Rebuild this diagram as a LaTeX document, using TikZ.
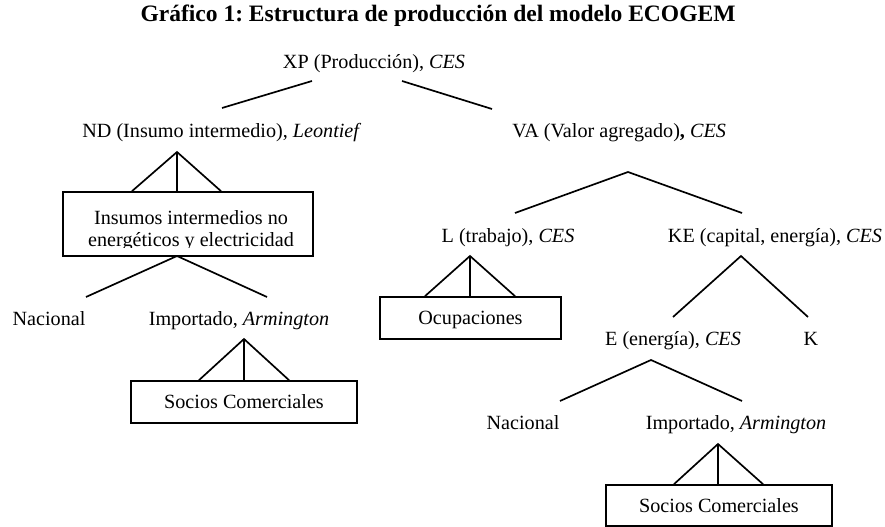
\documentclass[tikz,border=0pt]{standalone}
\usepackage{fontspec}
\setmainfont{Liberation Serif}
\usetikzlibrary{positioning, calc}
\frenchspacing

\begin{document}
\begin{tikzpicture}[
		x=0.595pt, y=-0.595pt,
		txt/.style={inner sep=0pt, text height=8.5pt, text depth=2.5pt,
			font=\fontsize{12}{14.3}\selectfont},
		groupbox/.style 2 args={draw, line width=1pt, inner sep=0pt,
			text height=10pt, text depth=2pt,
			font=\fontsize{12}{14.3}\selectfont,
			minimum width=#1*0.595pt, minimum height=#2*0.595pt},
		branch/.style={line width=1pt},
	]
		\useasboundingbox (0,0) rectangle (885,527);

		%Title
		\node (title) [font=\fontsize{14}{16}\selectfont\bfseries] at (438,16)
			{Gráfico 1: Estructura de producción del modelo ECOGEM};

		%Nodes
		\node (xp) [txt] at (374,63) {XP (Producción), \textit{CES}};
		\node (nd) [txt, anchor=west] at (82,132) {ND (Insumo intermedio), \textit{Leontief}};
		\node (va) [txt, anchor=west] at (512,132) {VA (Valor agregado)\textbf{,} \textit{CES}};

		\node (insumos) [groupbox={250}{64}] at (188,224) {};
		\node (insumosA) [txt, anchor=base] at (191,225) {Insumos intermedios no};
		\begin{scope}
			\clip (insumos.north west) rectangle ($(insumos.east)+(0,24)$);
			\node (insumosB) [txt, anchor=base] at (191,247) {energéticos y electricidad};
		\end{scope}
		\node (nacA) [txt] at (49,320) {Nacional};
		\node (impA) [txt] at (239,320) {Importado, \textit{Armington}};
		\node (sociosA) [groupbox={226}{42}] at (244,402) {Socios Comerciales};

		\node (lab) [txt] at (508,237) {L (trabajo), \textit{CES}};
		\node (ke) [txt] at (775,237) {KE (capital, energía), \textit{CES}};
		\node (ocup) [groupbox={181}{42}] at (470.5,318) {Ocupaciones};
		\node (ene) [txt] at (673,340) {E (energía), \textit{CES}};
		\node (cap) [txt] at (811,340) {K};
		\node (nacB) [txt] at (523,424) {Nacional};
		\node (impB) [txt] at (736,424) {Importado, \textit{Armington}};
		\node (sociosB) [groupbox={226}{41}] at (719,505.5) {Socios Comerciales};

		%Branch points
		\coordinate (xpL) at (312,81);
		\coordinate (xpR) at (402,81);
		\coordinate (ndUp) at (222,108);
		\coordinate (vaUp) at (492,109);
		\coordinate (ndTip) at (177,152);
		\coordinate (insTip) at (177,256);
		\coordinate (nacAUp) at (86,297);
		\coordinate (impAUp) at (267,297);
		\coordinate (impATip) at (244,339);
		\coordinate (vaTip) at (628,172);
		\coordinate (labUp) at (515,213);
		\coordinate (keUp) at (742,213);
		\coordinate (labTip) at (470,256);
		\coordinate (keTip) at (741,256);
		\coordinate (eneUp) at (673,317);
		\coordinate (capUp) at (808,317);
		\coordinate (eneTip) at (651,360);
		\coordinate (nacBUp) at (560,401);
		\coordinate (impBUp) at (742,401);
		\coordinate (impBTip) at (718,444);

		%Lines
		\draw[branch] (xpL) -- (ndUp);
		\draw[branch] (xpR) -- (vaUp);

		\draw[branch] ($(insumos.north -| ndTip)+(-45,0)$) -- (ndTip) -- ($(insumos.north -| ndTip)+(44,0)$);
		\draw[branch] (ndTip) -- (insumos.north -| ndTip);
		\draw[branch] (nacAUp) -- (insTip) -- (impAUp);

		\draw[branch] ($(sociosA.north -| impATip)+(-45,0)$) -- (impATip) -- ($(sociosA.north -| impATip)+(45,0)$);
		\draw[branch] (impATip) -- (sociosA.north -| impATip);

		\draw[branch] (labUp) -- (vaTip) -- (keUp);

		\draw[branch] ($(ocup.north -| labTip)+(-45,0)$) -- (labTip) -- ($(ocup.north -| labTip)+(45,0)$);
		\draw[branch] (labTip) -- (ocup.north -| labTip);

		\draw[branch] (eneUp) -- (keTip) -- (capUp);
		\draw[branch] (nacBUp) -- (eneTip) -- (impBUp);

		\draw[branch] ($(sociosB.north -| impBTip)+(-44,0)$) -- (impBTip) -- ($(sociosB.north -| impBTip)+(45,0)$);
		\draw[branch] (impBTip) -- (sociosB.north -| impBTip);
	\end{tikzpicture}
\end{document}
